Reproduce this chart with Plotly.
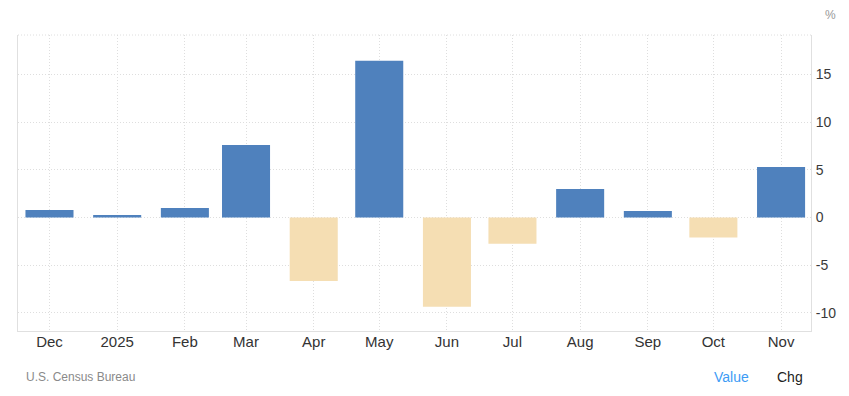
import plotly.graph_objects as go

months = ["2024-12-01", "2025-01-01", "2025-02-01", "2025-03-01", "2025-04-01", "2025-05-01",
          "2025-06-01", "2025-07-01", "2025-08-01", "2025-09-01", "2025-10-01", "2025-11-01"]
tick_labels = ["Dec", "2025", "Feb", "Mar", "Apr", "May", "Jun", "Jul", "Aug", "Sep", "Oct", "Nov"]
changes = [0.8, 0.28, 1.0, 7.6, -6.65, 16.45, -9.35, -2.75, 3.0, 0.7, -2.1, 5.3]
y_ticks = [-10, -5, 0, 5, 10, 15]
y_tick_labels = ["-10", "-5", "0", "5", "10", "15"]

POS = "#4f81bd"
NEG = "#f5deb3"
colors = [POS if v >= 0 else NEG for v in changes]

fig = go.Figure()
fig.add_trace(go.Bar(
    x=months, y=changes,
    marker=dict(color=colors, line=dict(width=0)),
    width=22 * 86400000,
    hoverinfo="x+y",
))

font_family = "Liberation Sans, Arial, sans-serif"
GRID = "#dedede"
DOT = "1px,2px"

# page body has an 8px default margin, so the figure is 8px smaller and margins shifted
fig.update_layout(
    width=841, height=388,
    margin=dict(l=10, r=38, t=27, b=65),
    paper_bgcolor="white", plot_bgcolor="white",
    showlegend=False,
    font=dict(family=font_family, color="#333"),
    xaxis=dict(
        type="date", automargin=False,
        range=["2024-11-16 14:00", "2025-11-14 17:00"],
        tickmode="array", tickvals=months, ticktext=tick_labels,
        tickfont=dict(size=15, color="#333"),
        showgrid=True, gridcolor=GRID, griddash=DOT, gridwidth=1,
        showline=True, linecolor="#e0e0e0", linewidth=1,
        ticks="", zeroline=False, ticklabelstandoff=-3,
    ),
    yaxis=dict(
        side="right", automargin=False,
        range=[-11.9, 19.15],
        tickmode="array", tickvals=y_ticks, ticktext=y_tick_labels,
        tickfont=dict(size=14, color="#3a3a3a"),
        showgrid=True, gridcolor=GRID, griddash=DOT, gridwidth=1,
        showline=True, linecolor="#e0e0e0", linewidth=1, mirror=True,
        ticks="", zeroline=False, ticklabelstandoff=1,
    ),
    shapes=[
        dict(type="line", xref="paper", yref="paper", x0=0, x1=1, y0=1, y1=1,
             line=dict(color=GRID, width=1, dash=DOT)),
    ],
    annotations=[
        dict(text="U.S. Census Bureau", xref="paper", yref="paper",
             x=0.0076, y=-0.155, xanchor="left", yanchor="middle", showarrow=False,
             font=dict(size=12, color="#8a8a8a", family=font_family)),
        dict(text="Value", xref="paper", yref="paper",
             x=0.875, y=-0.155, xanchor="left", yanchor="middle", showarrow=False,
             font=dict(size=14, color="#3d9bf5", family=font_family)),
        dict(text="Chg", xref="paper", yref="paper",
             x=0.9546, y=-0.155, xanchor="left", yanchor="middle", showarrow=False,
             font=dict(size=14, color="#222", family=font_family)),
        dict(text="%", xref="paper", yref="paper",
             x=1.015, y=1.0676, xanchor="left", yanchor="middle", showarrow=False,
             font=dict(size=12, color="#999", family=font_family)),
    ],
)

fig.write_html("out.html")
